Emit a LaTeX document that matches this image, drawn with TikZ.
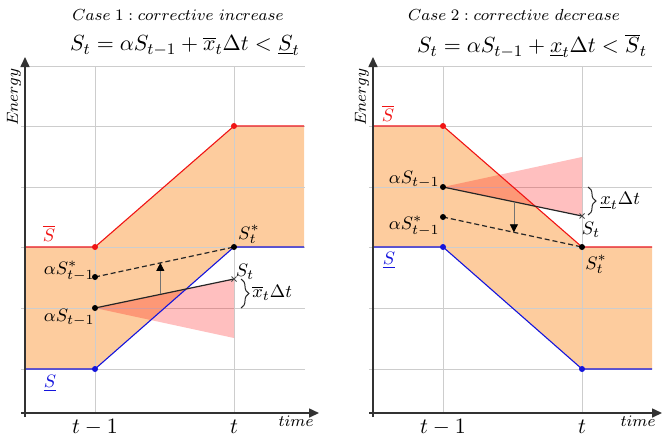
\documentclass[tikz,border=0pt]{standalone}
\usetikzlibrary{arrows.meta,decorations.pathreplacing,calc}
\definecolor{band}{RGB}{253,204,158}
\definecolor{gridc}{RGB}{205,205,205}
\definecolor{axisc}{RGB}{50,50,50}
\definecolor{redl}{RGB}{240,20,20}
\definecolor{bluel}{RGB}{20,20,220}
\tikzset{
  gridline/.style={draw=gridc,line width=0.5pt},
  axisline/.style={draw=axisc,line width=0.8pt,-{Triangle[length=5pt,width=4.5pt]}},
  upper/.style={draw=redl,line width=0.55pt},
  lower/.style={draw=bluel,line width=0.55pt},
  bandfill/.style={fill=band},
  cone/.style={fill=red,fill opacity=0.25},
  soliddyn/.style={draw=black!85,line width=0.6pt},
  dasheddyn/.style={draw=black!85,line width=0.6pt,dash pattern=on 2.5pt off 1.5pt},
  shiftarrow/.style={draw=black!55,line width=0.4pt,-{Triangle[length=4pt,width=4pt,color=black,fill=black]}},
  reddot/.style={circle,fill=redl,inner sep=0pt,minimum size=3pt},
  bluedot/.style={circle,fill=bluel,inner sep=0pt,minimum size=3pt},
  blackdot/.style={circle,fill=black,inner sep=0pt,minimum size=3pt},
  lab/.style={inner sep=0pt,font=\fontsize{9.5}{11}\selectfont},
  ticklab/.style={inner sep=0pt,font=\fontsize{11}{13}\selectfont},
  smalllab/.style={inner sep=0pt,font=\fontsize{8}{10}\selectfont},
  formula/.style={inner sep=0pt,font=\fontsize{11}{13}\selectfont},
  bracedeco/.style={draw=black!85,line width=0.5pt,decorate,decoration={brace,amplitude=4pt}},
  crossmark/.style={draw=black!70,line width=0.4pt}
}
\begin{document}
\begin{tikzpicture}[x=0.5pt,y=-0.5pt]
\useasboundingbox (0,0) rectangle (662,440);

% ================= LEFT PANEL =================
\fill[bandfill] (25,247) -- (95,247) -- (234,126) -- (304,126) -- (304,247) -- (234,247) -- (95,369) -- (25,369) -- cycle;
\foreach \yy in {66,126,187,247,308,369} \draw[gridline] (21,\yy) -- (305,\yy);
\foreach \xx in {95,234} \draw[gridline] (\xx,66) -- (\xx,414);

\coordinate (LA) at (95,308);
\coordinate (LB) at (95,277);
\coordinate (LSt) at (234,279);
\coordinate (LSs) at (234,247);
\coordinate (LP) at (234,338);

\fill[cone] (LA) -- (LSt) -- (LP) -- cycle;

\draw[upper] (25,247) -- (95,247) -- (234,126) -- (304,126);
\draw[lower] (25,369) -- (95,369) -- (234,247) -- (304,247);

\draw[soliddyn] (LA) -- (LSt);
\draw[dasheddyn] (LB) -- (LSs);
\coordinate (La1) at ($(LA)!0.47!(LSt)$);
\coordinate (La2) at ($(LB)!0.47!(LSs)$);
\draw[shiftarrow] (La1) -- (La2);
\draw[crossmark] ($(LSt)+(-2.5,-2.5)$) -- ($(LSt)+(2.5,2.5)$) ($(LSt)+(-2.5,2.5)$) -- ($(LSt)+(2.5,-2.5)$);

\node[reddot] (lr1) at (95,247) {};
\node[reddot] (lr2) at (234,126) {};
\node[bluedot] (lb1) at (95,369) {};
\node[blackdot] (ldA) at (LA) {};
\node[blackdot] (ldB) at (LB) {};
\node[blackdot] (ldS) at (LSs) {};

\coordinate (Lbr1) at (241,279);
\coordinate (Lbr2) at (241,308);
\draw[bracedeco] (Lbr1) -- (Lbr2);

\node[lab,text=redl] (lSup) at (49,233) {$\overline{S}$};
\node[lab,text=bluel] (lSlo) at (50,383) {$\underline{S}$};
\node[lab,anchor=east] (lBl) at (95,271) {$\alpha S^*_{t-1}$};
\node[lab,anchor=east] (lAl) at (95,318) {$\alpha S_{t-1}$};
\node[lab] (lSsl) at (249,234) {$S_t^*$};
\node[lab] (lStl) at (245,272) {$S_t$};
\node[lab,anchor=west] (lxl) at (252,293) {$\overline{x}_t\Delta t$};

\draw[axisline] (21,413) -- (319,413);
\draw[axisline] (25,417) -- (25,57);
\node[ticklab] (lt1) at (95,427) {$t-1$};
\node[ticklab] (lt2) at (234,427) {$t$};
\node[smalllab] (ltime) at (296,421) {$time$};
\node[smalllab,rotate=90] (lenergy) at (14,97) {$Energy$};

\node[smalllab] (ltitle) at (178,15) {$Case\;1 : corrective\ increase$};
\node[formula] (lform) at (185,46) {$S_t = \alpha S_{t-1} + \overline{x}_t\Delta t < \underline{S}_t$};

% ================= RIGHT PANEL =================
\fill[bandfill] (373,126) -- (443,126) -- (582,247) -- (652,247) -- (652,369) -- (582,369) -- (443,247) -- (373,247) -- cycle;
\foreach \yy in {66,126,187,247,308,369} \draw[gridline] (369,\yy) -- (652,\yy);
\foreach \xx in {443,582} \draw[gridline] (\xx,66) -- (\xx,414);

\coordinate (RA) at (443,187);
\coordinate (RB) at (443,217);
\coordinate (RSt) at (582,216);
\coordinate (RSs) at (582,247);
\coordinate (RP) at (582,157);

\fill[cone] (RA) -- (RP) -- (RSt) -- cycle;

\draw[upper] (373,126) -- (443,126) -- (582,247) -- (652,247);
\draw[lower] (373,247) -- (443,247) -- (582,369) -- (652,369);

\draw[soliddyn] (RA) -- (RSt);
\draw[dasheddyn] (RB) -- (RSs);
\coordinate (Ra1) at ($(RA)!0.51!(RSt)$);
\coordinate (Ra2) at ($(RB)!0.51!(RSs)$);
\draw[shiftarrow] (Ra1) -- (Ra2);
\draw[crossmark] ($(RSt)+(-2.5,-2.5)$) -- ($(RSt)+(2.5,2.5)$) ($(RSt)+(-2.5,2.5)$) -- ($(RSt)+(2.5,-2.5)$);

\node[reddot] (rr1) at (443,126) {};
\node[bluedot] (rb1) at (443,247) {};
\node[bluedot] (rb2) at (582,369) {};
\node[blackdot] (rdA) at (RA) {};
\node[blackdot] (rdB) at (RB) {};
\node[blackdot] (rdS) at (RSs) {};

\coordinate (Rbr1) at (588,187);
\coordinate (Rbr2) at (588,215);
\draw[bracedeco] (Rbr1) -- (Rbr2);

\node[lab,text=redl] (rSup) at (388,113) {$\overline{S}$};
\node[lab,text=bluel] (rSlo) at (389,260) {$\underline{S}$};
\node[lab,anchor=east] (rAl) at (440,180) {$\alpha S_{t-1}$};
\node[lab,anchor=east] (rBl) at (440,226) {$\alpha S^*_{t-1}$};
\node[lab] (rStl) at (591,230) {$S_t$};
\node[lab] (rSsl) at (596,264) {$S_t^*$};
\node[lab,anchor=west] (rxl) at (600,201) {$\underline{x}_t\Delta t$};

\draw[axisline] (369,413) -- (662,413);
\draw[axisline] (373,417) -- (373,57);
\node[ticklab] (rt1) at (443,427) {$t-1$};
\node[ticklab] (rt2) at (582,427) {$t$};
\node[smalllab] (rtime) at (638,421) {$time$};
\node[smalllab,rotate=90] (renergy) at (362,97) {$Energy$};

\node[smalllab] (rtitle) at (514,15) {$Case\;2 : corrective\ decrease$};
\node[formula] (rform) at (532,46) {$S_t = \alpha S_{t-1} + \underline{x}_t\Delta t < \overline{S}_t$};
\end{tikzpicture}
\end{document}
